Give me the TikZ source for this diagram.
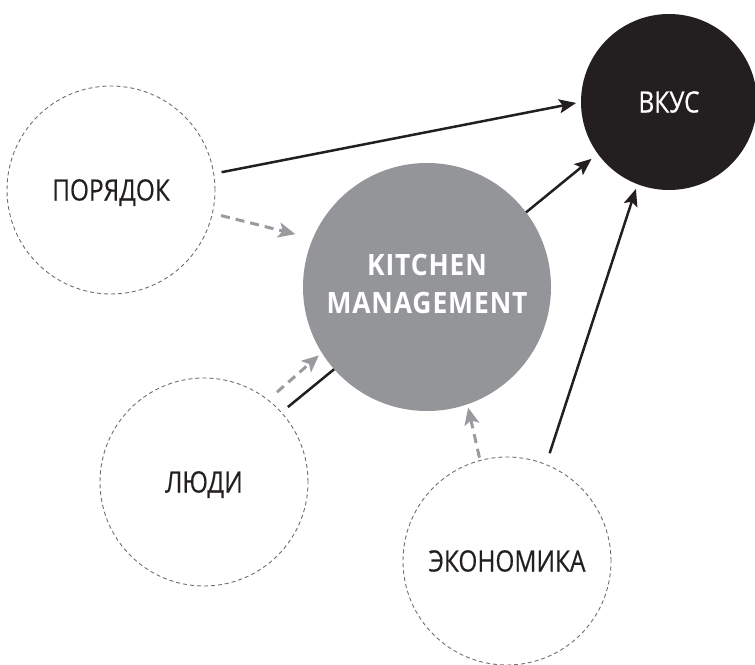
\documentclass[tikz,border=0pt]{standalone}
\usepackage{fontspec}
\setmainfont{Open Sans}
\newfontfamily\lblfont{Open Sans}[FakeStretch=0.83,FakeBold=0.4]
\newfontfamily\kmfont{Open Sans}[FakeStretch=0.9,LetterSpace=3]
\usetikzlibrary{arrows.meta}
\definecolor{ink}{HTML}{231F20}
\definecolor{midgray}{HTML}{939598}
\definecolor{arrowgray}{HTML}{9A9B9E}
\definecolor{dashgray}{HTML}{6D6E71}
\tikzset{
  idea/.style={circle, draw=dashgray, line width=0.9pt, dash pattern=on 4pt off 3pt,
    minimum size=208pt, inner sep=0pt, outer sep=0pt,
    font=\lblfont\fontsize{29.4}{30}\selectfont, text=ink, text height=21pt, text depth=0pt},
  goal/.style={circle, fill=ink, minimum size=176pt, inner sep=0pt, outer sep=0pt,
    font=\lblfont\fontsize{29.4}{30}\selectfont, text=white, text height=21pt, text depth=0pt},
  hub/.style={circle, fill=midgray, minimum size=248pt, inner sep=0pt, outer sep=0pt},
  hubtext/.style={align=center, text=white, inner sep=0pt,
    font=\kmfont\bfseries\fontsize{29.4}{38}\selectfont},
  blackarrow/.style={draw=ink, line width=2.5pt,
    -{Stealth[length=17pt, width=14pt, inset=3.5pt]}},
  grayarrow/.style={draw=arrowgray, line width=3pt, dash pattern=on 9pt off 6pt,
    -{Stealth[length=17pt, width=15pt, inset=4pt]}}
}
\begin{document}
\begin{tikzpicture}[x=1pt, y=-1pt]
\useasboundingbox (0,0) rectangle (755,664);
\node[idea] (porjadok) at (111,190) {ПОРЯДОК};
\node[idea] (ljudi) at (204,482) {ЛЮДИ};
\node[idea] (eko) at (507,561) {ЭКОНОМИКА};
\node[goal] (vkus) at (669,102) {ВКУС};
% line from ЛЮДИ to ВКУС passes behind the hub
\draw[blackarrow, shorten <=8.5pt, shorten >=8pt] (ljudi.42.5) -- (vkus.216.5);
\node[hub] (km) at (427,287) {};
\node[hubtext] (kmtext) at (427,283.5) {KITCHEN\\MANAGEMENT};
\draw[blackarrow, shorten <=8pt, shorten >=5pt] (porjadok.9) -- (vkus.180);
\draw[blackarrow, shorten <=12pt, shorten >=5pt] (eko.68.7) -- (vkus.249.2);
\draw[grayarrow, shorten <=9pt, shorten >=18pt] (porjadok.-13.3) -- (km.157.2);
\draw[grayarrow, shorten <=12pt, shorten >=4pt] (ljudi.52.3) -- (km.212.6);
\draw[grayarrow, shorten <=3pt, shorten >=3.5pt] (eko.105.2) -- (km.-71.7);
\end{tikzpicture}
\end{document}
